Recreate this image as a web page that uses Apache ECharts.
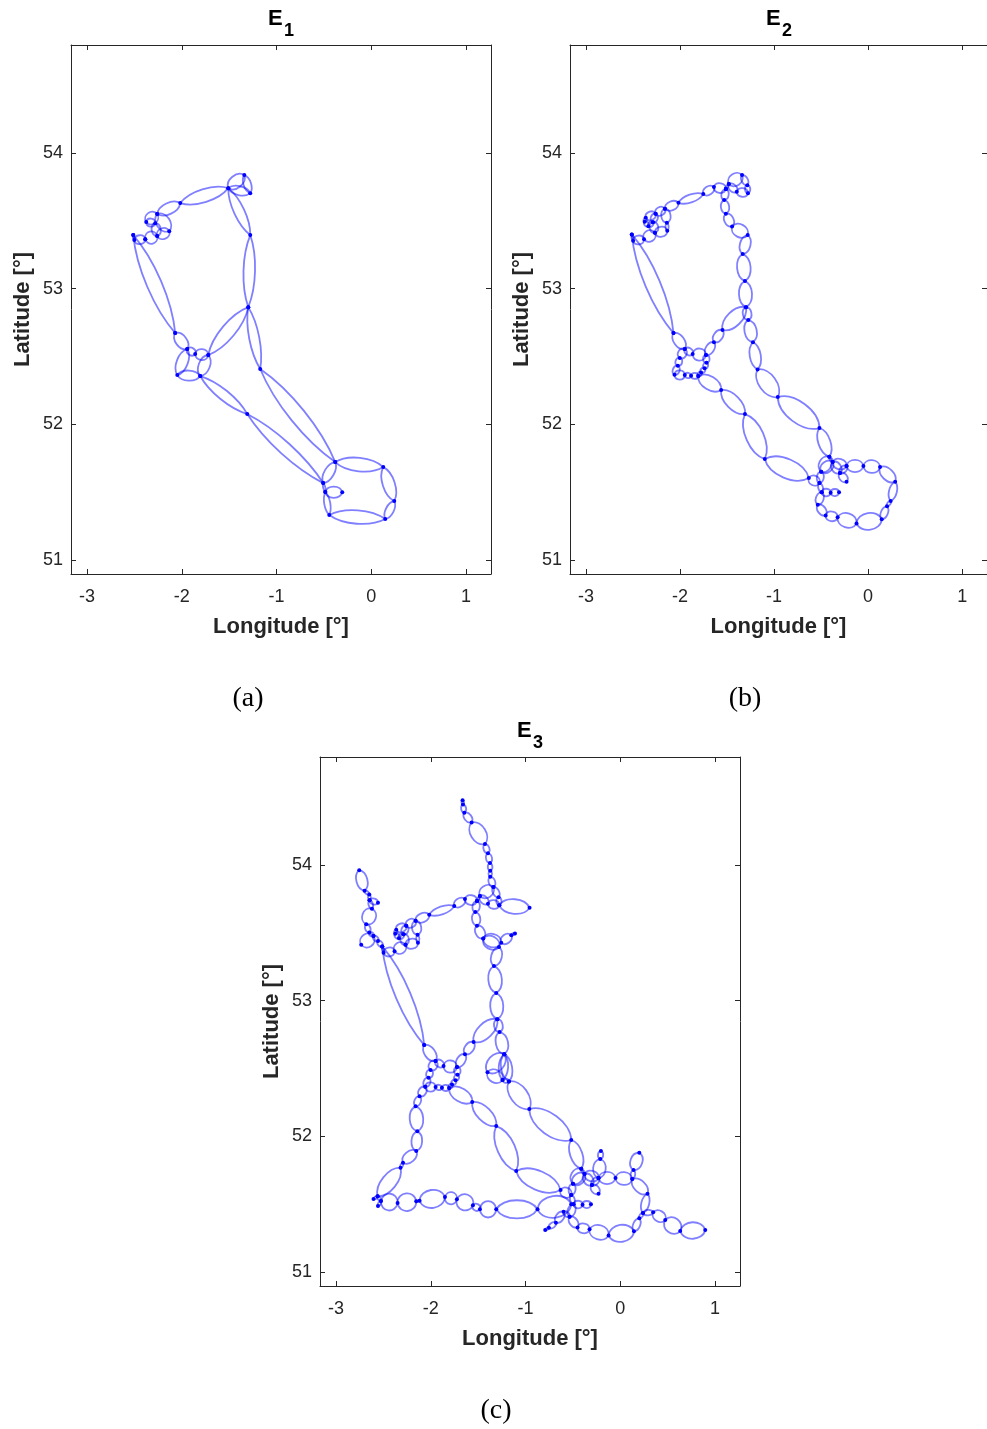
<!DOCTYPE html>
<html><head><meta charset="utf-8">
<style>html,body{margin:0;padding:0;background:#fff}#c{width:987px;height:1429px}</style>
<script src="https://cdn.jsdelivr.net/npm/echarts@6/dist/echarts.min.js"></script>
</head><body><div id="c"></div>
<script>
// Each chain: [longitude, latitude, lens half-width / chord length to the next node]
const lonTicks=[-3,-2,-1,0,1];
const latTicks=[51,52,53,54];
const lonRange=[-3.169,1.264];
const latRange=[50.897,54.796];

const e1West=[[-2.512,53.395,.07],[-2.069,52.673]];
const e1Tip=[[-2.512,53.395,.12],[-2.501,53.358,.4],[-2.385,53.365]];
const e1Ring=[[-2.385,53.365,.5],[-2.259,53.388,.42],[-2.132,53.424,.33],[-2.259,53.550,.22],[-2.016,53.631,.13],[-1.509,53.741,.3],[-1.340,53.837,.2],[-1.277,53.704,.2],[-1.509,53.741,.1],[-1.277,53.395,.08],[-1.298,52.864,.08],[-1.172,52.408,.065],[-0.380,51.722,.14],[0.127,51.685,.17],[0.243,51.435,.2],[0.148,51.302,.12],[-0.443,51.332,.13],[-0.485,51.501,.1],[-0.507,51.567,.2],[-0.380,51.722]];
const e1Inner=[[-2.259,53.550,.45],[-2.375,53.491,.45],[-2.280,53.483,.35],[-2.259,53.388]];
const e1Mid=[[-1.298,52.864,.11],[-1.720,52.511,.42],[-1.858,52.518,.4],[-1.942,52.555,.28],[-2.069,52.673]];
const e1Mid2=[[-1.720,52.511,.25],[-1.805,52.356,.22],[-2.047,52.363,.2],[-1.942,52.555]];
const e1South=[[-1.805,52.356,.085],[-1.309,52.076,.06],[-0.507,51.567]];
const e1Hook=[[-0.485,51.501,.33],[-0.306,51.499]];

const e2West=[[-2.512,53.400,.07],[-2.069,52.673]];
const e2Tip=[[-2.512,53.400,.12],[-2.498,53.353,.4],[-2.382,53.365,.45],[-2.266,53.412,.4],[-2.135,53.427,.2],[-2.139,53.486,.33],[-2.160,53.589,.3],[-2.016,53.633,.15],[-1.752,53.697,.33],[-1.639,53.749,.4],[-1.512,53.734]];
const e2Knot=[[-2.160,53.589,.4],[-2.259,53.552,.4],[-2.364,53.522,.4],[-2.375,53.493,.4],[-2.336,53.461,.4],[-2.287,53.490,.4],[-2.266,53.412]];
const e2Knot2=[[-2.259,53.552,.4],[-2.287,53.490]];
const e2North=[[-1.512,53.734,.2],[-1.481,53.771,.38],[-1.340,53.837,.28],[-1.284,53.763,.33],[-1.277,53.704,.38],[-1.396,53.714,.33],[-1.481,53.771]];
const e2East=[[-1.512,53.734,.33],[-1.530,53.653,.3],[-1.512,53.552,.33],[-1.446,53.459,.36],[-1.280,53.395,.27],[-1.333,53.255,.25],[-1.309,53.056,.25],[-1.298,52.864,.33],[-1.274,52.769,.27],[-1.224,52.606,.2],[-1.175,52.405,.25],[-0.960,52.201,.2],[-0.517,51.973,.2],[-0.412,51.761]];
const e2Centre=[[-1.298,52.864,.22],[-1.548,52.695,.3],[-1.639,52.606,.28],[-1.723,52.511,.45],[-1.865,52.518,.38],[-1.949,52.555,.27],[-2.069,52.673]];
const e2Bead=[[-1.949,52.555,.42],[-2.002,52.489,.42],[-2.023,52.432,.35],[-2.058,52.365,.45],[-1.949,52.363,.42],[-1.882,52.358,.42],[-1.805,52.356,.42],[-1.776,52.383,.42],[-1.738,52.413,.42],[-1.717,52.454,.42],[-1.723,52.511]];
const e2South=[[-1.805,52.356,.25],[-1.562,52.253,.2],[-1.309,52.076,.18],[-1.098,51.744,.2],[-0.630,51.604,.42],[-0.517,51.567,.3],[-0.499,51.651,.36],[-0.377,51.722,.36],[-0.299,51.641,.36],[-0.229,51.577]];
const e2Harbour=[[-0.499,51.651,.36],[-0.412,51.761,.2],[-0.377,51.722,.36],[-0.229,51.693,.36],[-0.050,51.693,.38],[0.127,51.685,.27],[0.288,51.577,.2],[0.240,51.435,.25],[0.201,51.396,.25],[0.145,51.300,.33],[-0.123,51.270,.36],[-0.324,51.315,.4],[-0.451,51.329,.3],[-0.535,51.408,.3],[-0.493,51.499,.25],[-0.517,51.567]];
const e2Thames=[[-0.493,51.499,.42],[-0.398,51.496,.42],[-0.309,51.499]];
const e2Link=[[-0.299,51.641,.33],[-0.229,51.693]];

const e3NorthWest=[[-2.755,53.962,.26],[-2.699,53.810,.25],[-2.649,53.783,.25],[-2.646,53.741,.33],[-2.557,53.721]];
const e3NorthWest2=[[-2.646,53.741,.25],[-2.621,53.677,.42],[-2.681,53.564,.3],[-2.649,53.503,.35],[-2.604,53.476,.35],[-2.557,53.439,.35],[-2.512,53.400]];
const e3Foot=[[-2.604,53.476,.45],[-2.734,53.412]];
const e3Pennine=[[-1.337,53.837,.3],[-1.372,53.913,.3],[-1.372,53.957,.3],[-1.375,54.014,.3],[-1.396,54.086,.3],[-1.428,54.154,.3],[-1.569,54.314,.3],[-1.646,54.385,.3],[-1.660,54.446,.3],[-1.664,54.478]];
const e3Humber=[[-1.277,53.704,.24],[-0.957,53.684]];
const e3Spur=[[-1.446,53.459,.36],[-1.256,53.427,.36],[-1.150,53.483,.25],[-1.111,53.496]];
const e3Derby=[[-1.224,52.606,.33],[-1.401,52.472,.38],[-1.242,52.415,.18],[-1.224,52.606]];
const e3Derby2=[[-1.242,52.415,.33],[-1.175,52.405]];
const e3WestCoast=[[-2.058,52.365,.35],[-2.118,52.295,.3],[-2.160,52.221,.27],[-2.142,52.037,.27],[-2.153,51.892,.3],[-2.293,51.805,.25],[-2.319,51.769,.2],[-2.561,51.558]];
const e3Wales=[[-2.604,51.538,.25],[-2.561,51.558,.25],[-2.526,51.523,.25],[-2.557,51.486]];
const e3Bottom=[[-2.526,51.523,.5],[-2.350,51.508,.47],[-2.153,51.521,.2],[-2.118,51.525,.35],[-1.850,51.553,.5],[-1.724,51.536,.47],[-1.555,51.492,.42],[-1.481,51.462,.5],[-1.309,51.462,.22],[-0.873,51.462,.32],[-0.517,51.499]];
const e3Kent=[[0.240,51.435,.27],[0.348,51.440,.38],[0.475,51.383,.42],[0.633,51.302,.33],[0.897,51.310]];
const e3Medway=[[-0.229,51.693,.33],[-0.211,51.833,.33],[-0.204,51.892]];
const e3Essex=[[0.127,51.685,.25],[0.140,51.752,.33],[0.201,51.879]];
const e3Sussex=[[-0.535,51.408,.3],[-0.598,51.444,.3],[-0.679,51.363,.3],[-0.753,51.326,.25],[-0.792,51.310]];

const e1Chains=[e1West,e1Tip,e1Ring,e1Inner,e1Mid,e1Mid2,e1South,e1Hook];
const e2Chains=[e2West,e2Tip,e2Knot,e2Knot2,e2North,e2East,e2Centre,e2Bead,e2South,e2Harbour,e2Thames,e2Link];
const e3Chains=e2Chains.concat([e3NorthWest,e3NorthWest2,e3Foot,e3Pennine,e3Humber,e3Spur,e3Derby,e3Derby2,e3WestCoast,e3Wales,e3Bottom,e3Kent,e3Medway,e3Essex,e3Sussex]);

const panels=[
 {chains:e1Chains,left:71,top:45,sub:'1',tx:268,ty:8,cap:'(a)',cx:248,cy:685},
 {chains:e2Chains,left:570,top:45,sub:'2',tx:766,ty:8,cap:'(b)',cx:745,cy:685},
 {chains:e3Chains,left:320,top:757,sub:'3',tx:517,ty:720,cap:'(c)',cx:496,cy:1397}
];
const axisColor='#262626', FONT='"Liberation Sans", Arial, sans-serif';

function lensItem(params,api){
  const a=api.coord([api.value(0),api.value(1)]), b=api.coord([api.value(2),api.value(3)]);
  const r=api.value(4), dx=b[0]-a[0], dy=b[1]-a[1];
  const t=Math.max(.04,.34-.7*r);
  const arc=s=>{
    const ox=-dy*r*s*4/3, oy=dx*r*s*4/3;
    return {type:'bezierCurve',
      shape:{x1:a[0],y1:a[1],x2:b[0],y2:b[1],
        cpx1:a[0]+dx*t+ox,cpy1:a[1]+dy*t+oy,
        cpx2:a[0]+dx*(1-t)+ox,cpy2:a[1]+dy*(1-t)+oy},
      style:{stroke:'rgba(0,0,255,0.5)',lineWidth:1.8,fill:null}};
  };
  return {type:'group',children:[arc(1),arc(-1)]};
}
const option={animation:false,backgroundColor:'#fff',grid:[],xAxis:[],yAxis:[],series:[],title:[]};
panels.forEach((p,i)=>{
  option.grid.push({left:p.left,top:p.top,width:420,height:529,containLabel:false,show:false});
  const edges=[],nodes=[];
  p.chains.forEach(ch=>ch.forEach((n,k)=>{
    nodes.push([n[0],n[1]]);
    if(k<ch.length-1) edges.push([n[0],n[1],ch[k+1][0],ch[k+1][1],n[2]]);
  }));
  const base={type:'value',gridIndex:i,scale:true,splitLine:{show:false},
    axisLine:{show:true,onZero:false,lineStyle:{color:axisColor,width:1}}};
  const tick=(v)=>({show:true,inside:true,length:5,customValues:v,lineStyle:{color:axisColor,width:1}});
  const xIdx=option.xAxis.length, yIdx=option.yAxis.length;
  option.xAxis.push(Object.assign({},base,{min:lonRange[0],max:lonRange[1],position:'bottom',
    name:'Longitude [°]',nameLocation:'middle',nameGap:42,
    nameTextStyle:{fontFamily:FONT,fontWeight:'bold',fontSize:22,color:axisColor},
    axisTick:tick(lonTicks),
    axisLabel:{show:true,customValues:lonTicks,margin:14,fontFamily:FONT,fontSize:18,color:axisColor,
      hideOverlap:false,showMinLabel:true,showMaxLabel:true}}));
  option.xAxis.push(Object.assign({},base,{min:lonRange[0],max:lonRange[1],position:'top',axisTick:tick(lonTicks),axisLabel:{show:false}}));
  option.yAxis.push(Object.assign({},base,{min:latRange[0],max:latRange[1],position:'left',
    name:'Latitude [°]',nameLocation:'middle',nameGap:37,
    nameTextStyle:{fontFamily:FONT,fontWeight:'bold',fontSize:22,color:axisColor},
    axisTick:tick(latTicks),
    axisLabel:{show:true,customValues:latTicks,margin:8,padding:[2,0,0,0],fontFamily:FONT,fontSize:18,color:axisColor}}));
  option.yAxis.push(Object.assign({},base,{min:latRange[0],max:latRange[1],position:'right',axisTick:tick(latTicks),axisLabel:{show:false}}));
  option.series.push({type:'custom',xAxisIndex:xIdx,yAxisIndex:yIdx,coordinateSystem:'cartesian2d',clip:false,silent:true,
    renderItem:lensItem,encode:{x:[0,2],y:[1,3]},data:edges});
  option.series.push({type:'scatter',xAxisIndex:xIdx,yAxisIndex:yIdx,symbolSize:4,silent:true,
    itemStyle:{color:'#0000ff',opacity:1},data:nodes});
  option.title.push({text:'E',left:p.tx,top:p.ty,padding:0,textStyle:{fontFamily:FONT,fontWeight:'bold',fontSize:22,color:'#000'}});
  option.title.push({text:p.sub,left:p.tx+16,top:p.ty+14,padding:0,textStyle:{fontFamily:FONT,fontWeight:'bold',fontSize:18,color:'#000'}});
  option.title.push({text:p.cap,left:p.cx,top:p.cy,padding:0,textAlign:'center',textStyle:{fontFamily:'"Liberation Serif", serif',fontWeight:'normal',fontSize:28,color:'#000'}});
});
echarts.init(document.getElementById('c'),null,{renderer:'canvas'}).setOption(option);
</script></body></html>
